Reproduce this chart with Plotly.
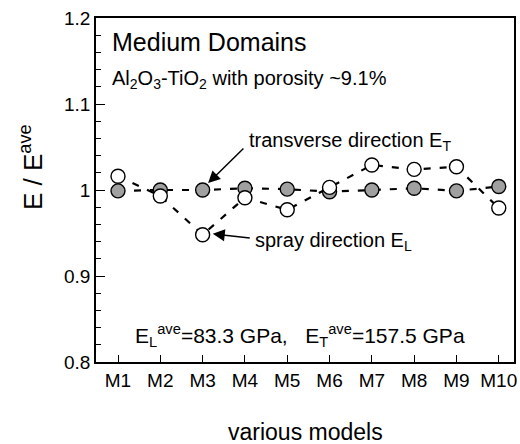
import plotly.graph_objects as go

models = ["M1", "M2", "M3", "M4", "M5", "M6", "M7", "M8", "M9", "M10"]
E_T = [0.999, 1.000, 1.000, 1.002, 1.001, 0.998, 1.000, 1.002, 0.999, 1.004]
E_L = [1.016, 0.993, 0.948, 0.991, 0.977, 1.003, 1.029, 1.024, 1.027, 0.979]
y_ticks = [0.8, 0.9, 1.0, 1.1, 1.2]
y_tick_labels = ["0.8", "0.9", "1", "1.1", "1.2"]

FONT = "Liberation Sans, Arial, sans-serif"

fig = go.Figure()
fig.add_trace(go.Scatter(
    x=models, y=E_T, mode="lines+markers",
    line=dict(color="black", width=2.2, dash="7px,9px"),
    marker=dict(size=14, color="#a0a0a0", line=dict(color="black", width=1.4)),
    showlegend=False))
fig.add_trace(go.Scatter(
    x=models, y=E_L, mode="lines+markers",
    line=dict(color="black", width=2.2, dash="7px,9px"),
    marker=dict(size=14, color="white", line=dict(color="black", width=1.4)),
    showlegend=False))

ann = []
ann.append(dict(x=-0.2, y=1.172, xref="x", yref="y", text="Medium Domains",
                showarrow=False, xanchor="left", yanchor="middle",
                font=dict(family=FONT, size=25, color="black")))
ann.append(dict(x=-0.2, y=1.128, xref="x", yref="y",
                text="Al<sub>2</sub>O<sub>3</sub>-TiO<sub>2</sub> with porosity ~9.1%",
                showarrow=False, xanchor="left", yanchor="middle",
                font=dict(family=FONT, size=20, color="black")))
ann.append(dict(x=3.05, y=1.056, xref="x", yref="y",
                text="transverse direction E<sub>T</sub>",
                showarrow=False, xanchor="left", yanchor="middle",
                font=dict(family=FONT, size=20, color="black")))
ann.append(dict(x=3.19, y=0.940, xref="x", yref="y",
                text="spray direction E<sub>L</sub>",
                showarrow=False, xanchor="left", yanchor="middle",
                font=dict(family=FONT, size=20, color="black")))
ann.append(dict(x=0.35, y=0.831, xref="x", yref="y",
                text="E<sub>L</sub><sup>ave</sup>=83.3 GPa,   E<sub>T</sub><sup>ave</sup>=157.5 GPa",
                showarrow=False, xanchor="left", yanchor="middle",
                font=dict(family=FONT, size=21, color="black")))
# axis titles
ann.append(dict(x=-0.153, y=0.567, xref="paper", yref="paper",
                text="E / E<sup>ave</sup>", textangle=-90, showarrow=False,
                xanchor="center", yanchor="middle",
                font=dict(family=FONT, size=26, color="black")))
ann.append(dict(x=0.5, y=-0.204, xref="paper", yref="paper",
                text="various models", showarrow=False,
                xanchor="center", yanchor="middle",
                font=dict(family=FONT, size=23, color="black")))
# arrows
ann.append(dict(x=2.13, y=1.008, xref="x", yref="y", ax=3.0, ay=1.05,
                axref="x", ayref="y", text="", showarrow=True,
                arrowhead=2, arrowsize=1.6, arrowwidth=1.5, arrowcolor="black"))
ann.append(dict(x=2.24, y=0.949, xref="x", yref="y", ax=3.15, ay=0.944,
                axref="x", ayref="y", text="", showarrow=True,
                arrowhead=2, arrowsize=1.6, arrowwidth=1.5, arrowcolor="black"))

fig.update_layout(
    width=520, height=444,
    margin=dict(l=96, r=6, t=18, b=82),
    paper_bgcolor="white", plot_bgcolor="white",
    font=dict(family=FONT, size=19, color="black"),
    annotations=ann,
)
fig.update_xaxes(
    type="category", range=[-0.52, 9.36], automargin=False,
    showline=True, linecolor="black", linewidth=1.5, mirror=True,
    ticks="inside", ticklen=7, tickwidth=1, tickcolor="black",
    showgrid=False, zeroline=False,
    tickfont=dict(size=19),
)
fig.update_yaxes(
    range=[0.8, 1.2], tickvals=y_ticks, ticktext=y_tick_labels, automargin=False,
    showline=True, linecolor="black", linewidth=1.5, mirror=True,
    ticks="inside", ticklen=9, tickwidth=1, tickcolor="black",
    minor=dict(dtick=0.02, ticks="inside", ticklen=5, tickwidth=1, tickcolor="black", showgrid=False),
    showgrid=False, zeroline=False,
    tickfont=dict(size=19),
)

fig.write_html("out.html", config={"displayModeBar": False},
               post_script="document.body.style.margin='0px';document.body.style.overflow='hidden';")
